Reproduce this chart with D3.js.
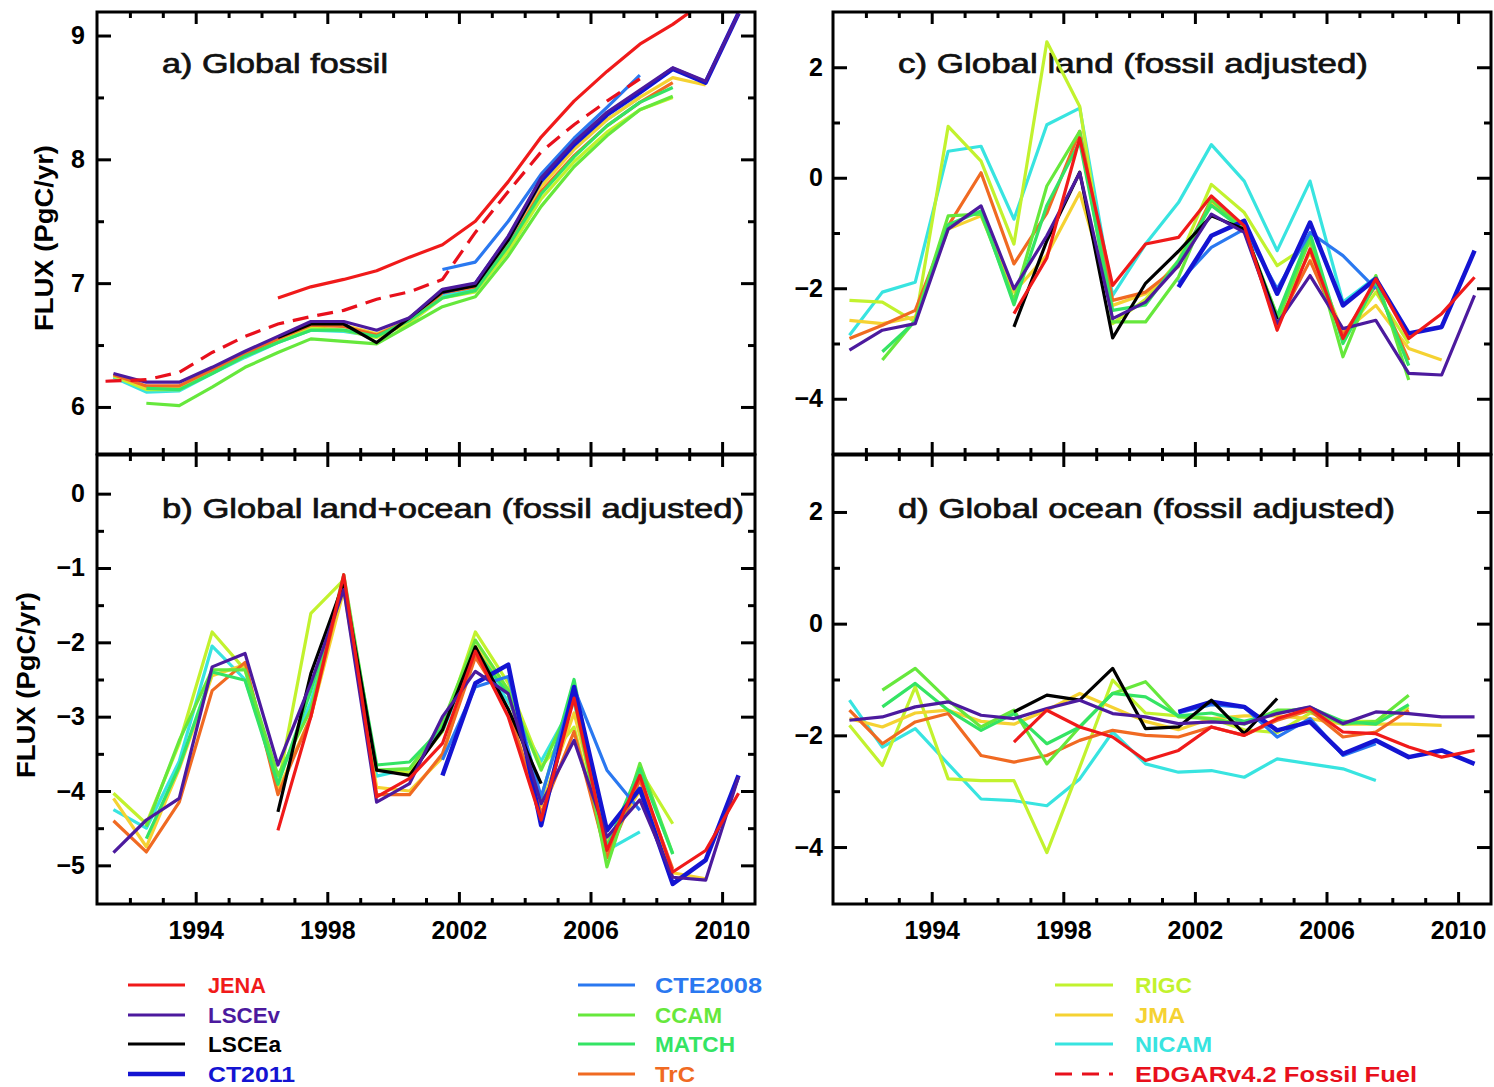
<!DOCTYPE html>
<html><head><meta charset="utf-8">
<script src="https://cdn.jsdelivr.net/npm/d3@7"></script>
<style>
body{margin:0;background:#fff}
svg{display:block;font-family:"Liberation Sans",Arial,sans-serif}
</style>
</head><body>
<svg id="chart" width="1494" height="1087"></svg>
<script>
// ---------------- DATA ----------------
const modelNames  = ["JENA","LSCEv","LSCEa","CT2011","CTE2008","CCAM","MATCH","TrC","RIGC","JMA","NICAM"];
const modelColors = ["#f01a1a","#4c1a9e","#000000","#1414d2","#2a78f0","#66e83c","#34e464","#f06a22","#c2f22e","#f5d232","#38e4e0"];
const modelStart  = [1996.5,1991.5,1996.5,2001.5,2001.5,1992.5,1992.5,1991.5,1991.5,1991.5,1991.5];

const edgarName  = "EDGARv4.2 Fossil Fuel";
const edgarColor = "#e8101c";
const edgarStart = 1990.5;
const edgarFossil = [6.20,6.21,6.22,6.28,6.44,6.57,6.67,6.73,6.78,6.87,6.93,7.03,7.41,7.74,8.06,8.28,8.47,8.65];

// a) Global fossil
const fossil = [
  [6.88,6.97,7.03,7.10,7.21,7.31,7.50,7.82,8.18,8.47,8.71,8.93,9.09,9.28,9.45],
  [6.27,6.20,6.20,6.32,6.45,6.57,6.69,6.69,6.62,6.72,6.95,7.00,7.38,7.85,8.14,8.38,8.56,8.74,8.63,9.18],
  [6.56,6.67,6.67,6.52,6.72,6.93,6.98,7.35,7.83],
  [6.93,6.99,7.36,7.83,8.12,8.36,8.54,8.73,8.62,9.18],
  [7.11,7.17,7.50,7.88,8.17,8.42,8.68],
  [6.03,6.01,6.16,6.32,6.44,6.55,6.53,6.51,6.66,6.81,6.89,7.22,7.62,7.94,8.19,8.40,8.51],
  [6.15,6.14,6.27,6.41,6.52,6.62,6.62,6.57,6.70,6.88,6.94,7.30,7.72,8.02,8.27,8.46,8.58],
  [6.26,6.17,6.17,6.30,6.43,6.55,6.66,6.65,6.58,6.70,6.92,6.97,7.30,7.74,8.03,8.27,8.46,8.62],
  [6.25,6.14,6.14,6.28,6.41,6.53,6.64,6.62,6.56,6.68,6.88,6.93,7.26,7.68,7.98,8.22,8.40,8.50],
  [6.26,6.16,6.16,6.30,6.43,6.55,6.67,6.66,6.59,6.70,6.93,6.98,7.33,7.78,8.08,8.32,8.50,8.66,8.60],
  [6.24,6.12,6.13,6.27,6.40,6.52,6.62,6.61,6.57,6.68,6.90,6.96,7.33,7.80,8.08,8.32,8.50]
];
// b) Global land+ocean (fossil adjusted)
const landOcean = [
  [-4.53,-3.00,-1.09,-4.08,-3.83,-3.36,-2.12,-3.00,-4.39,-2.75,-4.80,-3.79,-5.09,-4.80,-4.03],
  [-4.83,-4.39,-4.10,-2.33,-2.15,-3.65,-2.55,-1.29,-4.15,-3.90,-3.00,-2.39,-2.69,-4.17,-3.32,-4.62,-4.12,-5.16,-5.20,-3.81],
  [-4.28,-2.42,-1.20,-3.72,-3.79,-3.18,-2.06,-2.90,-3.90],
  [-3.79,-2.55,-2.30,-4.46,-2.60,-4.53,-3.97,-5.25,-4.93,-3.79],
  [-3.58,-2.60,-2.46,-4.08,-2.62,-3.72,-4.26],
  [-4.48,-3.32,-2.37,-2.37,-3.79,-2.90,-1.09,-3.72,-3.70,-3.09,-1.97,-2.64,-3.72,-2.73,-5.02,-3.63,-4.84],
  [-4.64,-3.67,-2.40,-2.51,-3.91,-2.65,-1.20,-3.65,-3.61,-3.15,-2.10,-2.70,-4.10,-2.50,-4.75,-3.70,-4.85],
  [-4.40,-4.82,-4.15,-2.65,-2.27,-4.05,-3.00,-1.15,-4.05,-4.05,-3.50,-2.20,-2.90,-4.30,-3.20,-4.90,-3.85,-5.05],
  [-4.03,-4.44,-3.36,-1.86,-2.37,-3.94,-1.61,-1.16,-3.72,-3.75,-3.20,-1.86,-2.55,-3.67,-3.14,-4.89,-3.72,-4.44],
  [-4.10,-4.75,-3.70,-2.45,-2.30,-4.00,-3.00,-1.30,-3.95,-4.00,-3.55,-2.05,-2.70,-4.20,-2.95,-4.70,-4.00,-5.10,-5.18],
  [-4.25,-4.50,-3.60,-2.05,-2.50,-3.85,-2.80,-1.25,-3.80,-3.70,-3.20,-2.10,-2.80,-3.60,-2.80,-4.80,-4.55]
];
// c) Global land (fossil adjusted)
const land = [
  [-2.46,-1.45,0.72,-1.95,-1.20,-1.08,-0.33,-0.87,-2.76,-1.29,-2.91,-1.83,-2.91,-2.46,-1.80],
  [-3.12,-2.76,-2.64,-0.93,-0.51,-2.01,-1.05,0.09,-2.55,-2.25,-1.59,-0.66,-0.99,-2.64,-1.77,-2.73,-2.58,-3.54,-3.57,-2.13],
  [-2.70,-1.14,0.10,-2.90,-1.91,-1.33,-0.69,-0.93,-2.56],
  [-1.98,-1.05,-0.78,-2.10,-0.81,-2.31,-1.83,-2.82,-2.70,-1.32],
  [-1.90,-1.26,-0.93,-2.01,-0.99,-1.41,-2.01],
  [-3.30,-2.58,-0.69,-0.66,-2.22,-0.15,0.84,-2.61,-2.61,-1.80,-0.39,-0.95,-2.60,-1.11,-3.24,-1.77,-3.66],
  [-3.15,-2.60,-0.85,-0.60,-2.30,-0.50,0.65,-2.40,-2.30,-1.50,-0.50,-0.95,-2.50,-1.00,-3.00,-1.90,-3.40],
  [-2.91,-2.67,-2.40,-0.87,0.09,-1.56,-0.64,0.84,-2.22,-2.07,-1.60,-0.39,-0.95,-2.65,-1.50,-2.85,-1.95,-3.30],
  [-2.22,-2.25,-2.61,0.93,0.30,-1.20,2.46,1.29,-2.64,-2.20,-1.50,-0.12,-0.63,-1.59,-1.20,-2.90,-2.07,-3.00],
  [-2.58,-2.64,-2.52,-0.93,-0.69,-2.07,-1.40,-0.27,-2.31,-2.10,-1.60,-0.45,-0.95,-2.50,-1.35,-2.80,-2.31,-3.09,-3.30],
  [-2.85,-2.07,-1.89,0.48,0.57,-0.75,0.96,1.26,-2.13,-1.20,-0.45,0.60,-0.06,-1.32,-0.06,-2.25,-1.80]
];
// d) Global ocean (fossil adjusted)
const ocean = [
  [-2.12,-1.55,-1.85,-2.03,-2.45,-2.27,-1.85,-2.00,-1.70,-1.52,-1.94,-1.97,-2.21,-2.39,-2.27],
  [-1.73,-1.67,-1.49,-1.40,-1.64,-1.70,-1.52,-1.37,-1.61,-1.67,-1.79,-1.76,-1.79,-1.61,-1.49,-1.79,-1.58,-1.61,-1.67,-1.67],
  [-1.58,-1.28,-1.37,-0.80,-1.88,-1.85,-1.37,-1.97,-1.34],
  [-1.58,-1.40,-1.49,-1.91,-1.76,-2.33,-2.09,-2.39,-2.27,-2.51],
  [-1.60,-1.45,-1.50,-2.03,-1.70,-2.36,-2.15],
  [-1.19,-0.80,-1.37,-1.85,-1.55,-2.51,-1.85,-1.25,-1.04,-1.67,-1.70,-1.80,-1.55,-1.55,-1.80,-1.75,-1.28],
  [-1.49,-1.07,-1.55,-1.91,-1.61,-2.15,-1.85,-1.25,-1.31,-1.65,-1.60,-1.75,-1.60,-1.50,-1.75,-1.80,-1.45],
  [-1.55,-2.15,-1.76,-1.61,-2.36,-2.48,-2.36,-2.09,-1.91,-2.00,-2.03,-1.85,-2.00,-1.73,-1.55,-2.03,-1.94,-1.55],
  [-1.82,-2.54,-1.13,-2.78,-2.81,-2.81,-4.10,-2.57,-1.01,-1.60,-1.65,-1.70,-1.90,-1.95,-1.60,-1.75,-1.75,-1.50],
  [-1.70,-1.85,-1.60,-1.55,-1.75,-1.80,-1.55,-1.25,-1.50,-1.75,-1.90,-1.70,-1.65,-1.65,-1.70,-1.80,-1.80,-1.80,-1.82],
  [-1.37,-2.21,-1.88,-2.51,-3.14,-3.17,-3.26,-2.78,-1.94,-2.51,-2.66,-2.63,-2.75,-2.42,-2.51,-2.60,-2.81]
];

const xMajorYears = [1994,1998,2002,2006,2010];
const xMinorYears = d3.range(1992, 2011).filter(y => !xMajorYears.includes(y));
const yTicksA = [6,7,8,9],            yMinorA = [6.5,7.5,8.5];
const yTicksB = [0,-1,-2,-3,-4,-5],   yMinorB = [-0.5,-1.5,-2.5,-3.5,-4.5];
const yTicksCD = [2,0,-2,-4],         yMinorCD = [1,-1,-3];
const panelTitles = ["a) Global fossil","b) Global land+ocean (fossil adjusted)","c) Global land (fossil adjusted)","d) Global ocean (fossil adjusted)"];
const yAxisTitle = "FLUX (PgC/yr)";

// ---------------- LAYOUT ----------------
const svg = d3.select("#chart");
const drawOrder = [10,8,9,7,5,6,4,3,2,1,0];
const lineWidth = i => (modelNames[i] === "CT2011" ? 4.5 : 3.2);

const panels = [
  {key:"a", x0:97,  x1:755,  y0:12,  y1:454, yDom:[5.62,9.19],  data:fossil,    yt:yTicksA,  ym:yMinorA,  xLab:false, tx:162, ty:73,  tl:226, edgar:true},
  {key:"b", x0:97,  x1:755,  y0:455, y1:904, yDom:[-5.52,0.52], data:landOcean, yt:yTicksB,  ym:yMinorB,  xLab:true,  tx:162, ty:518, tl:582, edgar:false},
  {key:"c", x0:833, x1:1491, y0:12,  y1:454, yDom:[-5,3],       data:land,      yt:yTicksCD, ym:yMinorCD, xLab:false, tx:898, ty:73,  tl:470, edgar:false},
  {key:"d", x0:833, x1:1491, y0:455, y1:904, yDom:[-5.02,3.02], data:ocean,     yt:yTicksCD, ym:yMinorCD, xLab:true,  tx:898, ty:518, tl:497, edgar:false}
];

const fmt = d3.format("d");

panels.forEach((p, pi) => {
  const x = d3.scaleLinear().domain([1991, 2011]).range([p.x0, p.x1]);
  const y = d3.scaleLinear().domain(p.yDom).range([p.y1, p.y0]);
  const g = svg.append("g").attr("class", "panel-" + p.key);

  // title
  g.append("text")
    .attr("x", p.tx).attr("y", p.ty)
    .attr("textLength", p.tl).attr("lengthAdjust", "spacingAndGlyphs")
    .attr("font-size", 28).attr("fill", "#111")
    .attr("stroke", "#111").attr("stroke-width", 0.7)
    .text(panelTitles[pi]);

  // clip
  svg.append("clipPath").attr("id", "clip-" + p.key)
    .append("rect").attr("x", p.x0).attr("y", p.y0).attr("width", p.x1 - p.x0).attr("height", p.y1 - p.y0);
  const plot = g.append("g").attr("clip-path", `url(#clip-${p.key})`);

  const line = d3.line().x(d => x(d[0])).y(d => y(d[1]));

  drawOrder.forEach(i => {
    const pts = p.data[i].map((v, k) => [modelStart[i] + k, v]);
    plot.append("path")
      .datum(pts)
      .attr("d", line)
      .attr("fill", "none")
      .attr("stroke", modelColors[i])
      .attr("stroke-width", lineWidth(i))
      .attr("stroke-linejoin", "round");
  });
  if (p.edgar) {
    const pts = edgarFossil.map((v, k) => [edgarStart + k, v]);
    plot.append("path").datum(pts).attr("d", line)
      .attr("fill", "none").attr("stroke", edgarColor).attr("stroke-width", 3.2)
      .attr("stroke-dasharray", "16,9");
  }

  // axes (inward ticks)
  const styleAxis = sel => {
    sel.select(".domain").remove();
    sel.selectAll(".tick line").attr("stroke", "#000").attr("stroke-width", 3);
    sel.selectAll(".tick text").attr("font-size", 25).attr("font-weight", "bold").attr("fill", "#000");
  };
  g.append("g").attr("transform", `translate(${p.x0},0)`)
    .call(d3.axisLeft(y).tickValues(p.yt).tickSize(-14).tickPadding(p.key === "a" || p.key === "b" ? 12 : 10).tickFormat(fmt))
    .call(styleAxis);
  g.append("g").attr("transform", `translate(${p.x0},0)`)
    .call(d3.axisLeft(y).tickValues(p.ym).tickSize(-7).tickFormat(""))
    .call(styleAxis);
  g.append("g").attr("transform", `translate(${p.x1},0)`)
    .call(d3.axisRight(y).tickValues(p.yt).tickSize(-14).tickFormat(""))
    .call(styleAxis);
  g.append("g").attr("transform", `translate(${p.x1},0)`)
    .call(d3.axisRight(y).tickValues(p.ym).tickSize(-7).tickFormat(""))
    .call(styleAxis);
  g.append("g").attr("transform", `translate(0,${p.y1})`)
    .call(d3.axisBottom(x).tickValues(xMajorYears).tickSize(-12).tickPadding(17).tickFormat(p.xLab ? fmt : ""))
    .call(styleAxis);
  g.append("g").attr("transform", `translate(0,${p.y1})`)
    .call(d3.axisBottom(x).tickValues(xMinorYears).tickSize(-6).tickFormat(""))
    .call(styleAxis);
  g.append("g").attr("transform", `translate(0,${p.y0})`)
    .call(d3.axisTop(x).tickValues(xMajorYears).tickSize(-12).tickFormat(""))
    .call(styleAxis);
  g.append("g").attr("transform", `translate(0,${p.y0})`)
    .call(d3.axisTop(x).tickValues(xMinorYears).tickSize(-6).tickFormat(""))
    .call(styleAxis);

  // frame
  g.append("rect")
    .attr("x", p.x0).attr("y", p.y0).attr("width", p.x1 - p.x0).attr("height", p.y1 - p.y0)
    .attr("fill", "none").attr("stroke", "#000").attr("stroke-width", 3);
});

// y-axis titles
[[53, 238], [35, 685]].forEach(([tx, ty]) => {
  svg.append("text")
    .attr("transform", `translate(${tx},${ty}) rotate(-90)`)
    .attr("text-anchor", "middle")
    .attr("font-size", 25).attr("font-weight", "bold")
    .attr("textLength", 186).attr("lengthAdjust", "spacingAndGlyphs")
    .text(yAxisTitle);
});

// legend
const legendItems = modelNames.map((n, i) => ({name: n, color: modelColors[i], dash: null}))
  .concat([{name: edgarName, color: edgarColor, dash: "17,10"}]);
const legendColX = [[128, 185, 208], [578, 635, 655], [1055, 1113, 1135]];
const legendRowY = [993, 1023, 1052, 1082];
const legendTextLen = [58, 72, 73, 87, 107, 67, 80, 40, 57, 50, 77, 282];
const leg = svg.append("g").attr("class", "legend");
legendItems.forEach((it, i) => {
  const c = legendColX[Math.floor(i / 4)];
  const by = legendRowY[i % 4];
  leg.append("line")
    .attr("x1", c[0]).attr("x2", c[1]).attr("y1", by - 8).attr("y2", by - 8)
    .attr("stroke", it.color).attr("stroke-width", it.name === "CT2011" ? 4.5 : 3)
    .attr("stroke-dasharray", it.dash);
  leg.append("text")
    .attr("x", c[2]).attr("y", by)
    .attr("font-size", 22).attr("font-weight", "bold").attr("fill", it.color)
    .attr("textLength", legendTextLen[i]).attr("lengthAdjust", "spacingAndGlyphs")
    .text(it.name);
});
</script>
</body></html>
